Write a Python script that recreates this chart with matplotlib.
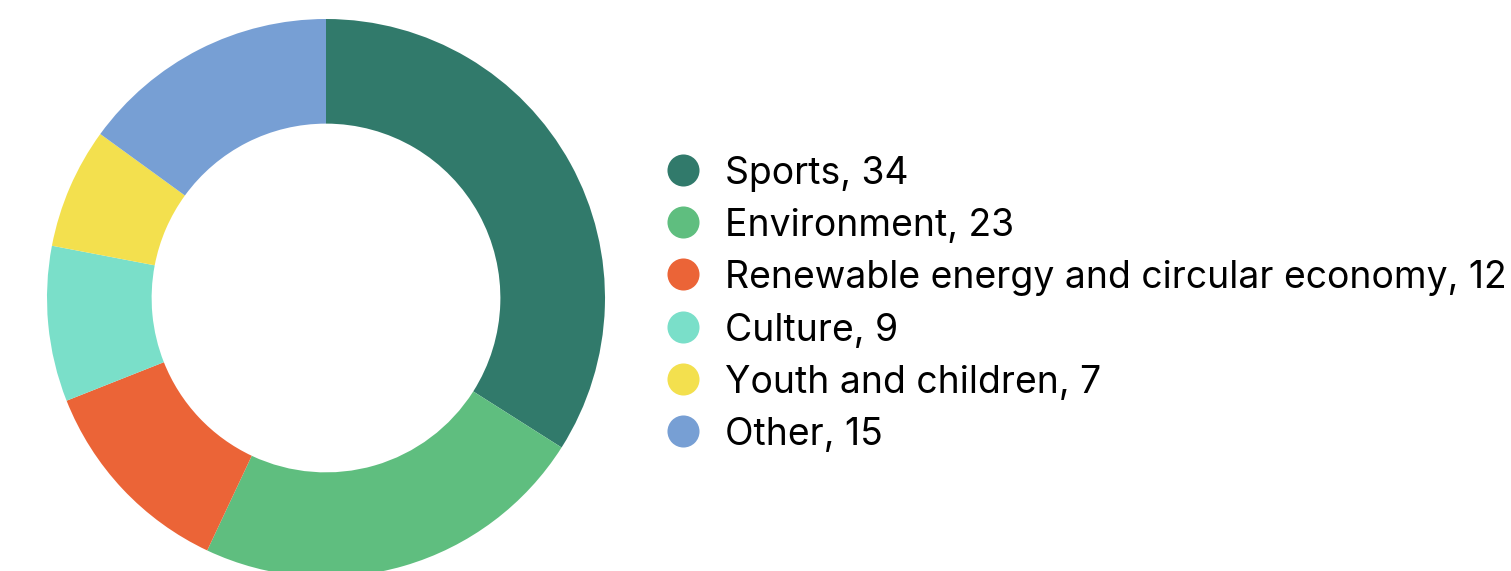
import matplotlib.pyplot as plt

plt.rcParams['font.family'] = ['Inter', 'DejaVu Sans']

categories = ["Sports", "Environment", "Renewable energy and circular economy",
              "Culture", "Youth and children", "Other"]
values = [34, 23, 12, 9, 7, 15]
colors = ["#317a6b", "#5fbe7f", "#eb6437", "#7adfc9", "#f3e04e", "#779fd4"]

W, H = 1511, 571
fig = plt.figure(figsize=(W / 100, H / 100), dpi=100)

# donut, centred at (326, 298) px with outer radius 279 px
R = 279
cx, cy = 326, H - 298
ax = fig.add_axes([(cx - R) / W, (cy - R) / H, 2 * R / W, 2 * R / H])
ax.pie(values, colors=colors, startangle=90, counterclock=False,
       radius=1, wedgeprops=dict(width=0.375, edgecolor='none'))
ax.set_xlim(-1, 1)
ax.set_ylim(-1, 1)
ax.set_aspect('equal')
ax.axis('off')

# legend: one row per category
lax = fig.add_axes([0, 0, 1, 1])
lax.set_xlim(0, W)
lax.set_ylim(H, 0)
lax.axis('off')
y0, dy = 170, 52.2
for i, (name, val, c) in enumerate(zip(categories, values, colors)):
    y = y0 + i * dy
    lax.scatter([683], [y], s=32 ** 2 * 0.52, color=c, linewidths=0)
    lax.text(725, y, f"{name}, {val}", fontsize=26.9, va='center_baseline',
             ha='left', color='black')

fig.savefig("out.png", dpi=100)
